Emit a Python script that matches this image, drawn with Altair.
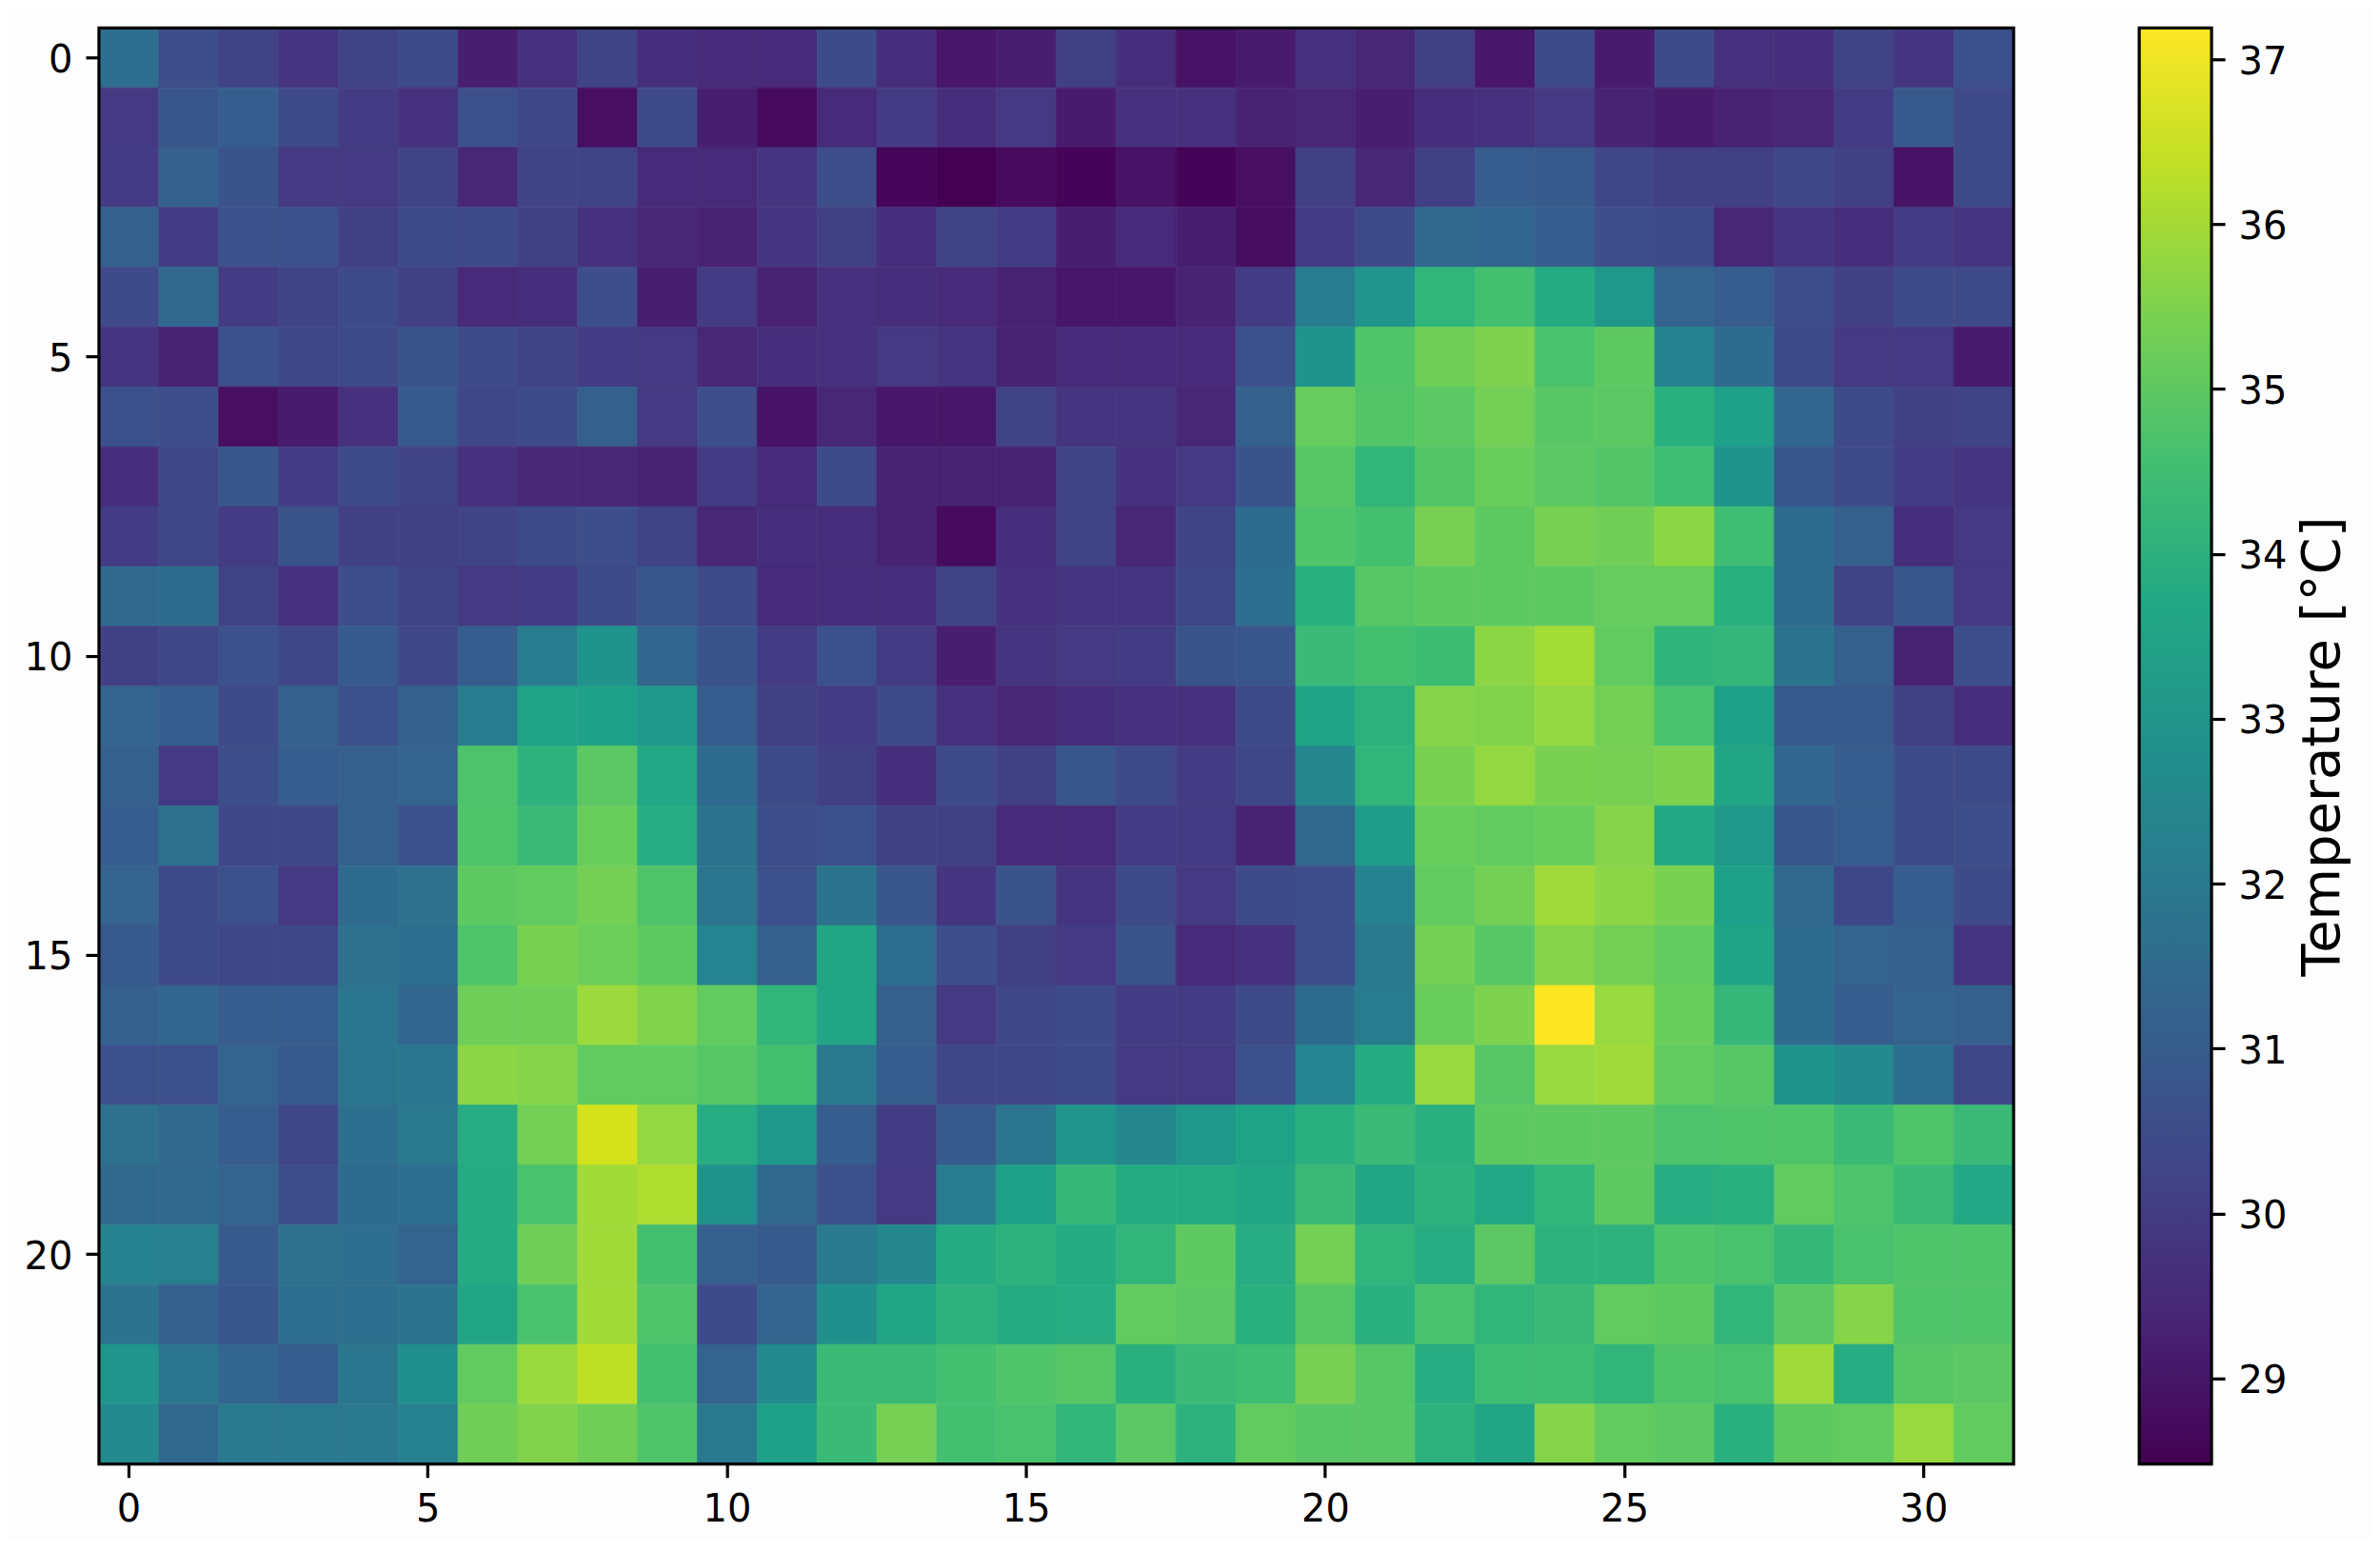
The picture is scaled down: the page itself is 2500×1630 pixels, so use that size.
import altair as alt
import pandas as pd

row00 = [31.6,30.5,30.2,29.8,30.2,30.4,29.2,29.7,30.2,29.6,29.5,29.5,30.4,29.6,29.0,29.2,30.1,29.6,28.9,29.1,29.7,29.4,30.1,29.0,30.4,29.1,30.4,29.7,29.6,30.2,29.8,30.6]
row01 = [29.9,30.8,31.0,30.4,30.0,29.7,30.6,30.3,28.8,30.4,29.2,28.7,29.5,30.0,29.6,29.9,29.1,29.7,29.7,29.3,29.4,29.2,29.6,29.7,29.9,29.3,29.1,29.3,29.4,30.0,30.9,30.4]
row02 = [30.0,31.1,30.7,29.9,29.9,30.2,29.4,30.2,30.2,29.5,29.5,29.8,30.5,28.6,28.48,28.7,28.55,28.9,28.55,28.8,30.1,29.4,30.1,31.0,30.9,30.3,30.1,30.1,30.3,30.1,28.9,30.4]
row03 = [31.1,30.0,30.6,30.6,30.1,30.4,30.4,30.1,29.7,29.4,29.3,29.8,30.1,29.6,30.2,30.0,29.2,29.5,29.2,28.75,30.0,30.4,31.4,31.3,31.0,30.5,30.4,29.4,29.8,29.6,30.0,29.8]
row04 = [30.4,31.4,30.0,30.2,30.4,30.1,29.5,29.6,30.5,29.2,30.0,29.3,29.7,29.6,29.5,29.3,29.0,29.0,29.3,30.0,32.1,33.0,34.2,34.6,33.8,33.1,31.2,31.0,30.5,30.1,30.4,30.4]
row05 = [29.8,29.3,30.6,30.3,30.4,30.7,30.4,30.2,30.0,29.9,29.4,29.6,29.7,29.9,29.8,29.3,29.5,29.5,29.5,30.6,32.9,34.8,35.27,35.5,34.7,35.05,32.3,31.5,30.4,29.9,29.9,29.1]
row06 = [30.6,30.5,28.8,29.1,29.7,30.9,30.3,30.4,31.1,29.9,30.5,28.9,29.4,29.0,29.0,30.2,29.8,29.8,29.4,31.1,35.15,34.85,35.0,35.35,34.95,35.0,34.0,33.4,31.3,30.4,30.1,30.2]
row07 = [29.6,30.3,30.8,30.0,30.4,30.2,29.7,29.4,29.4,29.3,30.0,29.5,30.4,29.3,29.3,29.3,30.2,29.7,29.9,30.7,34.9,34.2,34.85,35.2,35.0,34.85,34.5,32.9,30.8,30.4,30.0,29.8]
row08 = [30.0,30.3,30.0,30.7,30.1,30.1,30.2,30.4,30.5,30.2,29.4,29.6,29.6,29.3,28.7,29.6,30.2,29.4,30.2,31.5,34.8,34.6,35.4,35.05,35.4,35.3,35.7,34.5,31.5,31.1,29.6,29.9]
row09 = [31.4,31.5,30.2,29.7,30.5,30.2,29.9,30.0,30.4,30.8,30.4,29.5,29.6,29.6,30.2,29.7,29.8,29.8,30.3,31.6,34.0,34.9,35.05,35.05,35.05,35.15,35.15,34.0,31.5,30.2,30.8,29.9]
row10 = [30.1,30.3,30.6,30.3,30.9,30.3,31.0,32.1,32.9,31.3,30.7,30.0,30.6,30.0,29.2,29.8,29.9,30.0,30.7,30.8,34.4,34.6,34.45,35.7,36.0,35.1,34.15,34.25,31.8,31.1,29.3,30.5]
row11 = [31.2,31.0,30.4,31.1,30.6,31.1,32.1,33.5,33.4,33.1,31.0,30.1,30.0,30.4,29.7,29.4,29.6,29.7,29.7,30.4,33.55,34.05,35.6,35.55,35.8,35.35,34.7,33.45,30.9,30.9,30.1,29.6]
row12 = [31.1,29.9,30.5,31.0,31.1,31.2,34.75,34.1,35.0,33.7,31.5,30.4,30.1,29.6,30.4,30.1,30.8,30.4,30.0,30.3,32.5,34.2,35.45,35.8,35.45,35.4,35.5,33.6,31.3,31.0,30.4,30.4]
row13 = [31.0,31.7,30.3,30.3,31.1,30.6,34.8,34.4,35.2,33.9,31.8,30.5,30.6,30.1,30.1,29.5,29.5,30.0,30.0,29.3,31.4,33.3,35.2,35.1,35.2,35.6,33.75,33.2,30.8,31.0,30.4,30.5]
row14 = [31.2,30.4,30.6,29.9,31.5,31.7,35.05,35.1,35.35,34.8,31.9,30.6,31.8,30.8,29.8,30.7,29.8,30.4,29.9,30.4,30.5,32.3,35.1,35.35,35.95,35.7,35.45,33.4,31.4,30.3,31.0,30.4]
row15 = [30.9,30.4,30.3,30.3,31.7,31.6,34.8,35.45,35.25,35.05,32.4,31.1,33.6,31.6,30.5,30.1,29.9,30.7,29.5,29.7,30.5,32.0,35.35,34.95,35.6,35.35,35.1,33.55,31.5,31.2,31.1,29.8]
row16 = [31.1,31.3,31.0,31.0,31.9,31.3,35.27,35.27,35.9,35.55,35.1,34.2,33.6,31.1,29.9,30.3,30.4,30.0,30.0,30.4,31.5,32.1,35.2,35.5,37.19,35.85,35.2,34.3,31.5,31.0,31.2,31.1]
row17 = [30.6,30.6,31.2,30.9,31.9,31.9,35.67,35.6,35.1,35.1,34.9,34.6,32.0,31.0,30.3,30.3,30.4,29.9,29.9,30.6,32.4,33.8,35.85,34.9,35.85,35.95,35.1,34.9,32.9,32.6,31.6,30.3]
row18 = [31.7,31.4,31.0,30.3,31.6,32.0,33.9,35.35,36.62,35.8,33.9,33.2,31.0,30.0,30.9,31.9,33.0,32.5,33.1,33.5,34.0,34.4,34.0,35.05,35.05,35.05,34.75,34.8,34.8,34.4,34.8,34.4]
row19 = [31.4,31.4,31.2,30.5,31.5,31.6,33.8,34.7,35.97,36.15,32.9,31.4,30.6,29.9,32.1,33.4,34.3,33.8,33.8,33.6,34.4,33.6,34.1,33.7,34.2,35.05,33.9,34.0,35.1,34.75,34.4,33.7]
row20 = [32.3,32.2,30.9,31.7,31.6,31.2,33.8,35.3,35.97,34.6,31.1,30.9,32.0,32.5,33.8,34.1,33.8,34.2,35.05,33.9,35.35,34.2,33.9,35.0,34.1,34.1,34.8,34.7,34.3,34.7,34.8,34.8]
row21 = [31.8,31.1,30.8,31.6,31.6,31.8,33.6,34.7,35.97,34.8,30.4,31.2,32.8,33.6,34.1,33.8,33.9,35.1,35.0,34.0,34.9,34.0,34.7,34.2,34.4,35.1,35.05,34.2,35.0,35.6,34.8,34.8]
row22 = [33.0,31.9,31.3,31.0,31.9,32.8,35.1,35.88,36.36,34.6,31.2,32.6,34.4,34.4,34.6,34.8,34.9,34.0,34.4,34.5,35.4,34.9,33.9,34.5,34.5,34.2,34.8,34.7,35.95,33.9,34.9,35.0]
row23 = [32.6,31.4,32.0,32.0,32.0,32.3,35.3,35.55,35.3,34.8,32.0,33.4,34.4,35.4,34.6,34.7,34.2,35.0,34.1,35.1,34.95,34.95,34.1,33.6,35.6,35.1,35.0,34.0,35.05,35.1,35.85,35.1]
rows = [row00,row01,row02,row03,row04,row05,row06,row07,row08,row09,row10,row11,
        row12,row13,row14,row15,row16,row17,row18,row19,row20,row21,row22,row23]

x_ticks = [0, 5, 10, 15, 20, 25, 30]
y_ticks = [0, 5, 10, 15, 20]
cbar_ticks = [29, 30, 31, 32, 33, 34, 35, 36, 37]
t_min, t_max = 28.48, 37.19
viridis_stops = ["#440154","#482475","#414487","#355f8d","#2a788e","#21918c","#22a884","#44bf70","#7ad151","#bddf26","#fde725"]

records = [{"col": c, "row": r, "temp": v} for r, vals in enumerate(rows) for c, v in enumerate(vals)]
df = pd.DataFrame(records)
cbar_df = pd.DataFrame({"lo": [t_min], "hi": [t_max]})

FONT = "DejaVu Sans"
axis_style = dict(domain=False, tickSize=14, tickWidth=3.2, tickColor="black",
                  labelFontSize=40, labelFont=FONT, labelColor="black", labelPadding=14, title=None)

color_scale = alt.Scale(scheme="viridis", domain=[t_min, t_max])
heat = alt.Chart(df).mark_rect(strokeWidth=0.7).encode(
    x=alt.X("col:O", scale=alt.Scale(padding=0),
            axis=alt.Axis(values=x_ticks, labelAngle=0, **axis_style)),
    y=alt.Y("row:O", scale=alt.Scale(padding=0),
            axis=alt.Axis(values=y_ticks, minExtent=70, maxExtent=70, labelOffset=3, **axis_style)),
    color=alt.Color("temp:Q", scale=color_scale, legend=None),
    stroke=alt.Color("temp:Q", scale=color_scale, legend=None),
)
heat_frame = alt.Chart(cbar_df).mark_rect(fill="transparent", stroke="black", strokeWidth=3.2).encode(
    x=alt.value(0), x2=alt.value(2012), y=alt.value(0), y2=alt.value(1509)
)
heat_panel = alt.layer(heat, heat_frame).properties(width=2012, height=1509)

grad = alt.LinearGradient(
    gradient="linear", x1=0, x2=0, y1=1, y2=0,
    stops=[alt.GradientStop(offset=i / (len(viridis_stops) - 1), color=c) for i, c in enumerate(viridis_stops)],
)
cbar_axis = dict(axis_style)
cbar_axis.pop("title")
cbar = alt.Chart(cbar_df).mark_rect(color=grad).encode(
    x=alt.value(0), x2=alt.value(76),
    y=alt.Y("lo:Q", scale=alt.Scale(domain=[t_min, t_max], nice=False, zero=False),
            axis=alt.Axis(orient="right", values=cbar_ticks, grid=False, format="d", labelOffset=3,
                          title="Temperature [°C]", titleFont=FONT, titleFontSize=56,
                          titleAngle=270, titleBaseline="top",
                          titleFontWeight="normal", titleColor="black", titlePadding=11, **cbar_axis)),
    y2="hi:Q",
)
cbar_frame = alt.Chart(cbar_df).mark_rect(fill="transparent", stroke="black", strokeWidth=3.2).encode(
    x=alt.value(0), x2=alt.value(76), y=alt.value(0), y2=alt.value(1509)
)
cbar_panel = alt.layer(cbar, cbar_frame).properties(width=76, height=1509)

chart = alt.hconcat(heat_panel, cbar_panel, spacing=128).properties(
    background="#fdfdfd",
    padding={"left": 17, "top": 19, "right": 24, "bottom": 10},
).configure_view(stroke=None)

chart.save("out.html", embed_options={"renderer": "svg", "actions": False})
